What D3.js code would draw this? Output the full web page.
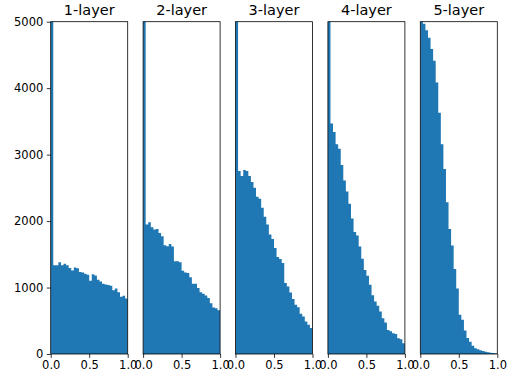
<!DOCTYPE html>
<html>
<head>
<meta charset="utf-8">
<script src="https://cdn.jsdelivr.net/npm/d3@7"></script>
<style>
  body { margin: 0; background: #fff; }
  text { font-family: "DejaVu Sans", sans-serif; fill: #000; }
</style>
</head>
<body>
<script>
// histogram titles, one per subplot
var titles = ["1-layer", "2-layer", "3-layer", "4-layer", "5-layer"];

// counts per bin (30 bins over 0..1); first bins run past the 5000 limit
var layer1 = [52000, 1334, 1334, 1379, 1334, 1359, 1334, 1293, 1258, 1300, 1290, 1233, 1228, 1208, 1193,
              1102, 1200, 1180, 1117, 1090, 1057, 1047, 1040, 1027, 960, 985, 930, 860, 875, 835];
var layer2 = [30000, 1948, 1983, 1907, 1872, 1882, 1822, 1772, 1636, 1621, 1656, 1616, 1394, 1394, 1379,
              1253, 1228, 1218, 1153, 1057, 1057, 992, 931, 906, 881, 841, 765, 700, 690, 660];
var layer3 = [20000, 2753, 2678, 2768, 2753, 2678, 2587, 2502, 2366, 2336, 2200, 2064, 1948, 1797, 1731,
              1596, 1460, 1430, 1369, 1067, 1017, 926, 826, 740, 705, 604, 564, 488, 440, 390];
var layer4 = [8000, 3468, 3342, 3156, 3090, 2844, 2612, 2446, 2260, 2038, 1837, 1782, 1616, 1434, 1263,
              1178, 1041, 885, 790, 725, 639, 538, 473, 362, 342, 312, 301, 236, 221, 161];
var layer5 = [5010, 4968, 4870, 4760, 4590, 4414, 4086, 3630, 3155, 2785, 2285, 1882, 1631, 1279, 985,
              589, 514, 352, 241, 186, 126, 85, 70, 55, 45, 35, 28, 20, 14, 10];
var layers = [layer1, layer2, layer3, layer4, layer5];

// tick labels
var xTicks = [0, 0.5, 1.0];
var yTicks = [0, 1000, 2000, 3000, 4000, 5000];

var w = 516;
var h = 381;
var margin = {top: 21.7, left: 50.7};
var plotW = 77;
var plotH = 332.3;
var gap = 15.4;
var barColor = "#1f77b4";

var svg = d3.select("body")
            .append("svg")
            .attr("width", w)
            .attr("height", h);

var xScale = d3.scaleLinear()
               .domain([0, 1])
               .range([0, plotW]);

var yScale = d3.scaleLinear()
               .domain([0, 5000])
               .range([plotH, 0]);

// step shaped area, one flat top per bin
var area = d3.area()
             .x(function(d) { return xScale(d[0]); })
             .y0(plotH)
             .y1(function(d) { return yScale(d[1]); })
             .curve(d3.curveStepAfter);

for (let p = 0; p < layers.length; p++) {
  let counts = layers[p];
  let x0 = margin.left + p * (plotW + gap);
  let g = svg.append("g")
             .attr("transform", "translate(" + x0 + "," + margin.top + ")");

  // clip so bars over 5000 stop at the frame
  svg.append("clipPath")
     .attr("id", "clip" + p)
     .append("rect")
     .attr("width", plotW)
     .attr("height", plotH);

  // bin left edges with their counts, plus the closing edge at 1.0
  let binW = 1 / counts.length;
  let steps = [];
  for (let i = 0; i < counts.length; i++) {
    steps.push([i * binW, counts[i]]);
  }
  steps.push([1, counts[counts.length - 1]]);

  g.append("path")
   .datum(steps)
   .attr("clip-path", "url(#clip" + p + ")")
   .attr("d", area)
   .attr("fill", barColor);

  // x axis
  let xAxis = d3.axisBottom(xScale)
                .tickValues(xTicks)
                .tickFormat(d3.format(".1f"))
                .tickSize(3.9)
                .tickPadding(2.5);
  let xg = g.append("g")
            .attr("transform", "translate(0," + plotH + ")")
            .call(xAxis);
  xg.select(".domain").remove();
  xg.selectAll("line").attr("stroke", "#000").attr("stroke-width", 0.8);
  xg.selectAll("text").attr("font-size", 11.5).attr("font-family", "DejaVu Sans");

  // y axis only on the first subplot
  if (p == 0) {
    let yAxis = d3.axisLeft(yScale)
                  .tickValues(yTicks)
                  .tickFormat(d3.format("d"))
                  .tickSize(3.9)
                  .tickPadding(3.5);
    let yg = g.append("g").call(yAxis);
    yg.select(".domain").remove();
    yg.selectAll("line").attr("stroke", "#000").attr("stroke-width", 0.8);
    yg.selectAll("text").attr("font-size", 11.5).attr("font-family", "DejaVu Sans");
  }

  // frame
  g.append("rect")
   .attr("width", plotW)
   .attr("height", plotH)
   .attr("fill", "none")
   .attr("stroke", "#000")
   .attr("stroke-width", 0.8);

  // title
  g.append("text")
   .attr("x", plotW / 2)
   .attr("y", -7)
   .attr("text-anchor", "middle")
   .attr("font-size", 14.5)
   .text(titles[p]);
}
</script>
</body>
</html>
